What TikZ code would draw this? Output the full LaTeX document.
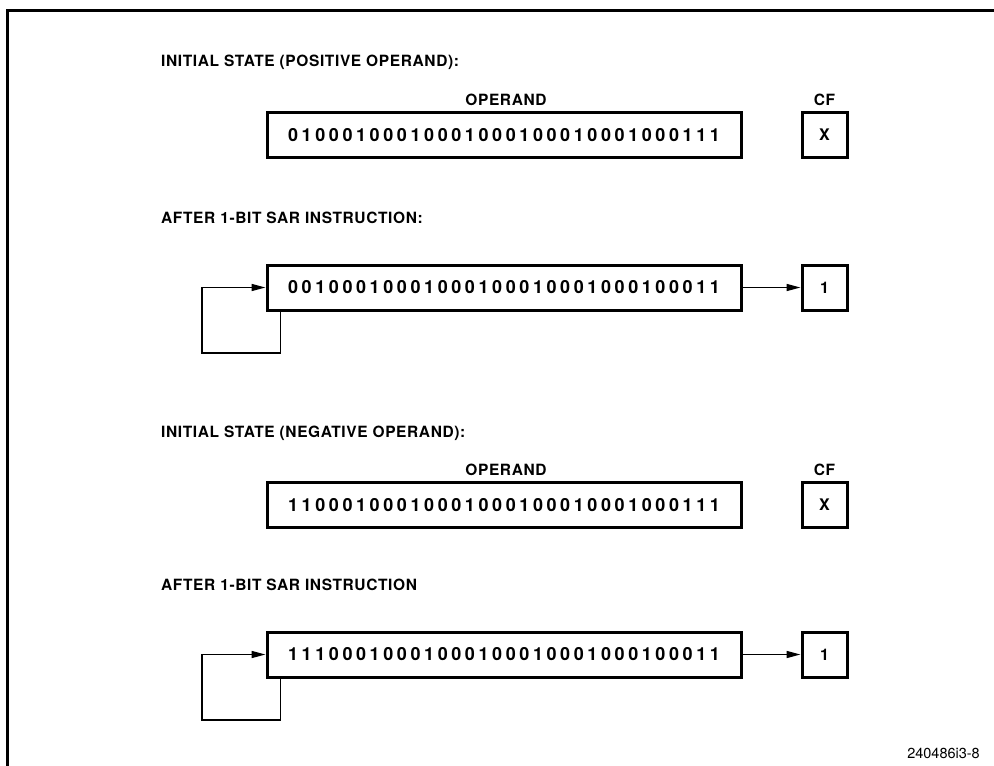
\documentclass[tikz,border=0pt]{standalone}
\usepackage{fontspec}
\setmainfont{TeX Gyre Heros}
\usetikzlibrary{arrows.meta,positioning}

\tikzset{
  heading/.style={anchor=west,inner sep=0pt,font=\bfseries\fontsize{15.5}{17}\selectfont\addfontfeature{LetterSpace=4}},
  tag/.style={inner sep=0pt,font=\bfseries\fontsize{15.5}{17}\selectfont\addfontfeature{LetterSpace=4}},
  regbox/.style={draw,line width=3pt,minimum width=474pt,minimum height=45pt,inner sep=0pt,
    font=\bfseries\fontsize{18}{20}\selectfont\addfontfeature{LetterSpace=20}},
  flagbox/.style={draw,line width=3pt,minimum width=45pt,minimum height=45pt,inner sep=0pt,
    font=\bfseries\fontsize{16}{18}\selectfont},
  flow/.style={line width=1.6pt,-{Triangle[length=14pt,width=7pt]}},
}

\begin{document}
\begin{tikzpicture}[x=1pt,y=-1pt]
      \useasboundingbox (0,0) rectangle (994,766);
      \draw[line width=3pt] (7,766) -- (7,10) -- (994,10);
      % positive operand
      \node[heading] (head1) at (161,62) {INITIAL STATE (POSITIVE OPERAND):};
      \node[regbox] (op1) at (504,135) {01000100010001000100010001000111};
      \node[tag] (name1) at (506,100) {OPERAND};
      \node[flagbox] (cf1) at (824.5,135) {X};
      \node[tag] (cfname1) at (824.5,100) {CF};
      \node[heading] (head2) at (161,218) {AFTER 1-BIT SAR INSTRUCTION:};
      \node[regbox] (op2) at (504,287.5) {00100010001000100010001000100011};
      \node[flagbox] (cf2) at (824.5,287.5) {1};
      \coordinate (fb2) at (202,353);
      \draw[flow] (op2) -- (cf2);
      \draw[flow] ([xshift=15pt]op2.south west) |- (fb2) |- (op2.west);
      % negative operand
      \node[heading] (head3) at (161,433) {INITIAL STATE (NEGATIVE OPERAND):};
      \node[regbox] (op3) at (504,505) {11000100010001000100010001000111};
      \node[tag] (name3) at (506,470) {OPERAND};
      \node[flagbox] (cf3) at (824.5,505) {X};
      \node[tag] (cfname3) at (824.5,470) {CF};
      \node[heading] (head4) at (161,585) {AFTER 1-BIT SAR INSTRUCTION};
      \node[regbox] (op4) at (504,654.5) {11100010001000100010001000100011};
      \node[flagbox] (cf4) at (824.5,654.5) {1};
      \coordinate (fb4) at (202,720);
      \draw[flow] (op4) -- (cf4);
      \draw[flow] ([xshift=15pt]op4.south west) |- (fb4) |- (op4.west);
      \node[anchor=east,inner sep=0pt,font=\fontsize{14.5}{16}\selectfont] (figno) at (980,753) {240486i3-8};
\end{tikzpicture}
\end{document}
